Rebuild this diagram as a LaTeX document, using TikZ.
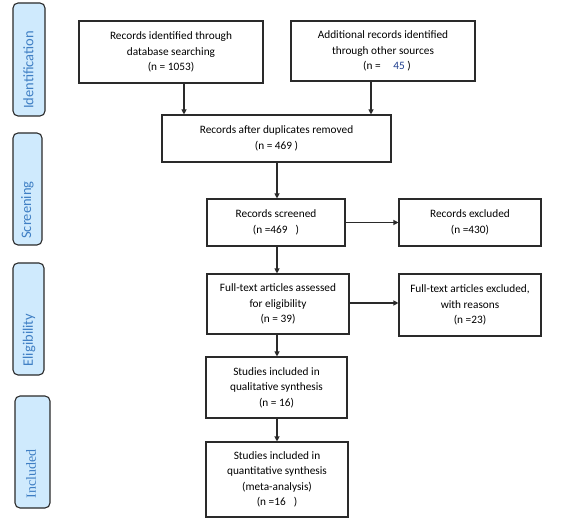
\documentclass[tikz,border=0pt]{standalone}
\usepackage{fontspec}
\setmainfont{Carlito}
\newfontfamily\tabserif{Liberation Serif}
\usetikzlibrary{arrows.meta}
\definecolor{tabfill}{HTML}{CFEAFD}
\definecolor{tabtext}{HTML}{3F7FC4}
\definecolor{edge}{HTML}{2A2A2A}
\begin{document}
\begin{tikzpicture}[x=1pt,y=-1pt,
  box/.style={draw=edge,line width=1.1pt,align=center,font=\fontsize{11.3}{15.5}\selectfont,inner sep=0pt},
  tab/.style={draw=edge,fill=tabfill,line width=1.1pt,rounded corners=5pt},
  tablabel/.style={rotate=90,text=tabtext,font=\fontsize{14.5}{16}\selectfont},
  arr/.style={draw=edge,line width=1.1pt,-{Triangle[length=5pt,width=5pt]}}]
\useasboundingbox (0,0) rectangle (578,526);
% phase tabs
\draw[tab] (13,3) rectangle (45,116);
\node[tablabel] (tid) at (28.5,70) {Identification};
\draw[tab] (13,133) rectangle (42,245);
\node[tablabel] (tsc) at (27.5,210) {Screening};
\draw[tab] (13,263) rectangle (44,375);
\node[tablabel,anchor=west] (tel) at (29,370) {Eligibility};
\draw[tab] (15,396) rectangle (50,508);
\node[tablabel,anchor=west,font=\tabserif\fontsize{14}{16}\selectfont] (tin) at (31,502) {Included};
% boxes
\node[box,minimum width=184,minimum height=62] (b1) at (171,52) {Records identified through\\database searching\\(n = 1053)};
\node[box,minimum width=184,minimum height=60] (b2) at (383,51) {Additional records identified\\through other sources\\\hspace*{8pt}(n = \hspace{10pt}{\color[HTML]{1F3F8F}45} )};
\node[box,minimum width=229,minimum height=47] (b3) at (276.5,138.5) {Records after duplicates removed\\(n = 469 )};
\node[box,minimum width=138,minimum height=47] (b4) at (276,222.5) {Records screened\\(n =469\hspace{8pt})};
\node[box,minimum width=142,minimum height=47] (b5) at (470,222.5) {Records excluded\\(n =430)};
\node[box,minimum width=142,minimum height=60] (b6) at (278,304) {Full-text articles assessed\\for eligibility\\(n = 39)};
\node[box,minimum width=142,minimum height=62] (b7) at (470,305) {Full-text articles excluded,\\with reasons\\(n =23)};
\node[box,minimum width=141,minimum height=61] (b8) at (276.5,387.5) {Studies included in\\qualitative synthesis\\(n = 16)};
\node[box,minimum width=142,minimum height=75] (b9) at (277,479.5) {Studies included in\\quantitative synthesis\\(meta-analysis)\\(n =16\hspace{8pt})};
% connectors
\draw[arr] (b1.south -| 184,0) -- (b3.north -| 184,0);
\draw[arr] (b2.south -| 371,0) -- (b3.north -| 371,0);
\draw[arr] (b3.south -| 277,0) -- (b4.north -| 277,0);
\draw[arr] (b4.south -| 277,0) -- (b6.north -| 277,0);
\draw[arr] (b6.south -| 277,0) -- (b8.north -| 277,0);
\draw[arr] (b8.south -| 277,0) -- (b9.north -| 277,0);
\draw[arr] (b4.east) -- (b5.west);
\draw[arr] (b6.east |- 0,303) -- (b7.west |- 0,303);
\end{tikzpicture}
\end{document}
